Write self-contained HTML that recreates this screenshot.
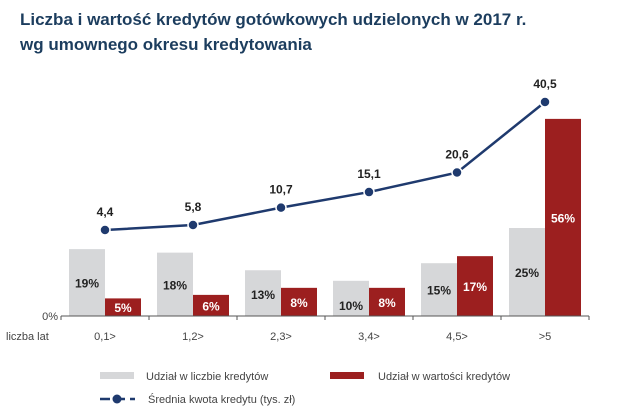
<!DOCTYPE html>
<html><head><meta charset="utf-8"><style>
body{margin:0;background:#fff;width:639px;height:413px;overflow:hidden;font-family:"Liberation Sans",sans-serif}
.t{position:absolute;left:20px;font-weight:bold;font-size:17px;color:#1c3d5e}
</style></head><body>
<div class="t" style="top:10px">Liczba i wartość kredytów gotówkowych udzielonych w 2017 r.</div>
<div class="t" style="top:35px">wg umownego okresu kredytowania</div>
<svg id="c" width="639" height="413" style="position:absolute;left:0;top:0"></svg>
<script>
const categories=["0,1>","1,2>","2,3>","3,4>","4,5>",">5"];
const countShare=[19,18,13,10,15,25];
const valueShare=[5,6,8,8,17,56];
const avgAmount=[4.4,5.8,10.7,15.1,20.6,40.5];
const avgLabels=["4,4","5,8","10,7","15,1","20,6","40,5"];
const svg=document.getElementById('c');const NS='http://www.w3.org/2000/svg';
function mk(t,a,txt){const e=document.createElementNS(NS,t);for(const k in a)e.setAttribute(k,a[k]);if(txt!==undefined)e.textContent=txt;svg.appendChild(e);return e;}
const base=316,x0=61,gw=88,bw=36;
const xC=i=>x0+44+i*gw;
const yP=v=>base-v*3.52;
const yL=v=>230-(v-4.4)*3.546;
categories.forEach((c,i)=>{
 const cx=xC(i);
 let r=mk('rect',{x:cx-bw,y:yP(countShare[i]),width:bw,height:countShare[i]*3.52,fill:'#d6d7d9'});
 
 r=mk('rect',{x:cx,y:yP(valueShare[i]),width:bw,height:valueShare[i]*3.52,fill:'#9c1f1f'});
 
 const hc=countShare[i]*3.52,hv=valueShare[i]*3.52;
 let t=mk('text',{x:cx-bw/2,y:base-Math.min(hc/2,hc-24)+5,'text-anchor':'middle','font-size':12,'font-weight':'bold',fill:'#222'},countShare[i]+'%');
 
 t=mk('text',{x:cx+bw/2,y:base-Math.max(hv/2,9)+5,'text-anchor':'middle','font-size':12,'font-weight':'bold',fill:'#fff'},valueShare[i]+'%');
 
 t=mk('text',{x:cx,y:340,'text-anchor':'middle','font-size':11,fill:'#444'},c);
 
});
let ax=mk('line',{x1:x0,x2:x0+6*gw,y1:base,y2:base,stroke:'#555','stroke-width':1});

for(let i=0;i<=6;i++){const tk=mk('line',{x1:x0+i*gw,x2:x0+i*gw,y1:base,y2:base+4,stroke:'#555'});}
let z=mk('text',{x:58,y:320,'text-anchor':'end','font-size':11,fill:'#444'},'0%');
z=mk('text',{x:6,y:340,'font-size':11,fill:'#444'},'liczba lat');
const pts=avgAmount.map((v,i)=>xC(i)+','+yL(v)).join(' ');
const pl=mk('polyline',{points:pts,fill:'none',stroke:'#1f3a6e','stroke-width':2.5});

avgAmount.forEach((v,i)=>{
 const c=mk('circle',{cx:xC(i),cy:yL(v),r:5,fill:'#1f3a6e',stroke:'#fff','stroke-width':1.5});
 
 const t=mk('text',{x:xC(i),y:yL(v)-14,'text-anchor':'middle','font-size':12,'font-weight':'bold',fill:'#222'},avgLabels[i]);
 
});
let e=mk('rect',{x:100,y:372,width:34,height:7,fill:'#d6d7d9'});
e=mk('text',{x:146,y:380,'font-size':11,fill:'#444'},'Udział w liczbie kredytów');
e=mk('rect',{x:330,y:372,width:34,height:7,fill:'#9c1f1f'});
e=mk('text',{x:378,y:380,'font-size':11,fill:'#444'},'Udział w wartości kredytów');
e=mk('line',{x1:100,x2:135,y1:399,y2:399,stroke:'#1f3a6e','stroke-width':2.5,'stroke-dasharray':'10,5'});
e=mk('circle',{cx:117,cy:399,r:4.5,fill:'#1f3a6e'});
e=mk('text',{x:148,y:403,'font-size':11,fill:'#444'},'Średnia kwota kredytu (tys. zł)');
</script>
</body></html>
